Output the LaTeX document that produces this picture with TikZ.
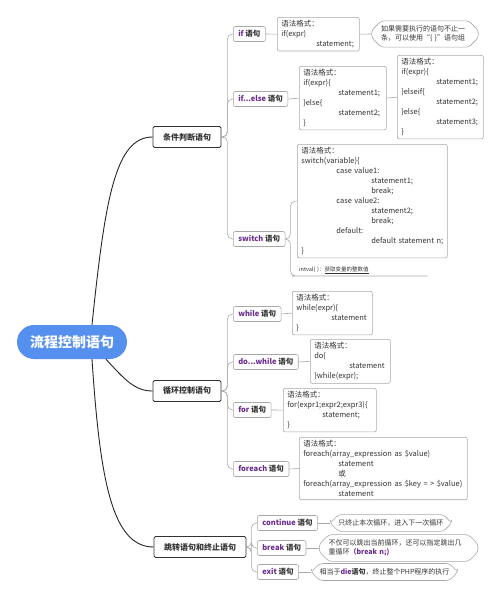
\documentclass[tikz,border=0pt]{standalone}
\usepackage{fontspec}
\setmainfont{Noto Sans CJK SC}
\usetikzlibrary{shapes.misc}

\definecolor{kw}{HTML}{6B2C91}
\definecolor{rootblue}{HTML}{5590EE}
\definecolor{boxline}{HTML}{A8A8A8}
\definecolor{txt}{HTML}{333333}

\newcommand\tb{\hspace*{35pt}}
\newcommand\kw[1]{{\color{kw}#1}}

\begin{document}
\begin{tikzpicture}[x=1pt, y=-1pt,
    maintopic/.style={fill=rootblue, text=white, rounded corners=17pt,
      minimum width=110pt, minimum height=34pt, font=\fontsize{14}{16}\selectfont\bfseries},
    topic/.style={draw=txt, fill=white, rounded corners=1.5pt, line width=0.8pt, text=txt,
      minimum height=21pt, inner xsep=10pt, font=\fontsize{8}{9}\selectfont\bfseries},
    stmt/.style={draw=boxline, fill=white, rounded corners=2pt, line width=0.6pt, text=txt,
      anchor=west, minimum height=15pt, inner xsep=5pt, font=\fontsize{7.5}{9}\selectfont\bfseries},
    syntax/.style={draw=boxline, fill=white, rounded corners=2pt, line width=0.6pt, text=txt,
      anchor=north west, align=left, inner xsep=4pt, inner ysep=3pt,
      font=\fontsize{7.5}{10}\selectfont},
    note/.style={chamfered rectangle, chamfered rectangle xsep=6pt, draw=boxline,
      rounded corners=3pt, line width=0.6pt, text=txt, align=left, inner ysep=1.5pt,
      font=\fontsize{7}{9}\selectfont},
    trunk/.style={draw=black!85, line width=0.9pt},
    branch/.style={draw=boxline, line width=0.6pt, rounded corners=5pt}]
  \useasboundingbox (0,0) rectangle (500,597);

  %---- centre and main branches
  \node[maintopic] (root) at (72,342) {流程控制语句};
  \node[topic] (cond) at (187,137) {条件判断语句};
  \node[topic] (loop) at (187,391) {循环控制语句};
  \node[topic] (jump) at (200,547) {跳转语句和终止语句};

  \draw[trunk] ([xshift=20pt]root.north) .. controls (105,200) and (115,137) .. (cond.west);
  \draw[trunk] ([xshift=34pt]root.south) .. controls (125,380) and (135,391) .. (loop.west);
  \draw[trunk] ([xshift=20pt]root.south) .. controls (100,480) and (112,547) .. (jump.west);

  %---- conditional statements
  \node[stmt] (ifs)  at (233,34)  {\kw{if} 语句};
  \node[stmt] (ifes) at (233,99)  {\kw{if...else} 语句};
  \node[stmt] (sws)  at (233,239) {\kw{switch} 语句};
  \foreach \s in {ifs,ifes,sws}
    \draw[branch] (cond.east) -- ++(6,0) |- (\s.west);

  \node[syntax, text width=74pt] (ifbox) at (277,17)
    {语法格式：\\ if(expr)\\ \tb statement;};
  \node[note, text width=88pt] (ifnote) at (425,34)
    {如果需要执行的语句不止一\\条，可以使用“\{ \}”语句组};
  \draw[branch] (ifs.east) -- (ifbox.west);
  \draw[branch] (ifbox.east) -- (ifnote.west);

  \node[syntax, text width=79pt] (ie1) at (299,66)
    {语法格式：\\ if(expr)\{\\ \tb statement1;\\ \}else\{\\ \tb statement2;\\ \}};
  \node[syntax, text width=78pt] (ie2) at (397,55)
    {语法格式：\\ if(expr)\{\\ \tb statement1;\\ \}elseif\{\\ \tb statement2;\\
     \}else\{\\ \tb statement3;\\ \}};
  \draw[branch] (ifes.east) -- (ie1.west);
  \draw[branch] (ie1.east) -- (ie2.west);

  \node[syntax, text width=142pt] (swbox) at (297,144)
    {语法格式：\\ switch(variable)\{\\ \tb case value1:\\ \tb\tb statement1;\\ \tb\tb break;\\
     \tb case value2:\\ \tb\tb statement2;\\ \tb\tb break;\\ \tb default:\\
     \tb\tb default statement n;\\ \}};
  \node[anchor=south west, text width=126pt, align=left, inner xsep=2pt, inner ysep=2pt,
    text=txt, font=\fontsize{5.5}{7}\selectfont] (intval) at (297,276)
    {intval( )：\underline{获取变量的整数值}};
  \draw[branch] (sws.east) -- ++(5,0) |- (swbox.west);
  \draw[branch] (sws.east) -- ++(5,0) |- (intval.south west) -- (intval.south east);

  %---- loop statements
  \node[stmt] (ws)  at (233,314) {\kw{while} 语句};
  \node[stmt] (dws) at (233,362) {\kw{do...while} 语句};
  \node[stmt] (fs)  at (233,410) {\kw{for} 语句};
  \node[stmt] (fes) at (233,469) {\kw{foreach} 语句};
  \foreach \s in {ws,dws,fs,fes}
    \draw[branch] (loop.east) -- ++(6,0) |- (\s.west);

  \node[syntax, text width=72pt] (wbox) at (292,291)
    {语法格式：\\ while(expr)\{\\ \tb statement\\ \}};
  \node[syntax, text width=72pt] (dwbox) at (310,339)
    {语法格式：\\ do\{\\ \tb statement\\ \}while(expr);};
  \node[syntax, text width=85pt] (fbox) at (283,388)
    {语法格式：\\ for(expr1;expr2;expr3)\{\\ \tb statement;\\ \}};
  \node[syntax, text width=160pt] (febox) at (299,437)
    {语法格式：\\ foreach(array\_expression as \$value)\\ \tb statement\\ \tb 或\\
     foreach(array\_expression as \$key = > \$value)\\ \tb statement};
  \draw[branch] (ws.east) -- (wbox.west);
  \draw[branch] (dws.east) -- (dwbox.west);
  \draw[branch] (fs.east) -- (fbox.west);
  \draw[branch] (fes.east) -- (febox.west);

  %---- jump statements
  \node[stmt] (cs) at (257,523) {\kw{continue} 语句};
  \node[stmt] (bs) at (257,548) {\kw{break} 语句};
  \node[stmt] (es) at (257,572) {\kw{exit} 语句};
  \foreach \s in {cs,bs,es}
    \draw[branch] (jump.east) -- ++(5,0) |- (\s.west);

  \node[note, anchor=west] (cnote) at (330,523) {只终止本次循环，进入下一次循环};
  \node[note, anchor=west, text width=140pt] (bnote) at (319,548)
    {不仅可以跳出当前循环，还可以指定跳出几\\重循环\kw{\bfseries（break n;)}};
  \node[note, anchor=west] (enote) at (311,572)
    {相当于{\bfseries\kw{die}语句}，终止整个PHP程序的执行};
  \draw[branch] (cs.east) -- (cnote.west);
  \draw[branch] (bs.east) -- (bnote.west);
  \draw[branch] (es.east) -- (enote.west);
\end{tikzpicture}
\end{document}
